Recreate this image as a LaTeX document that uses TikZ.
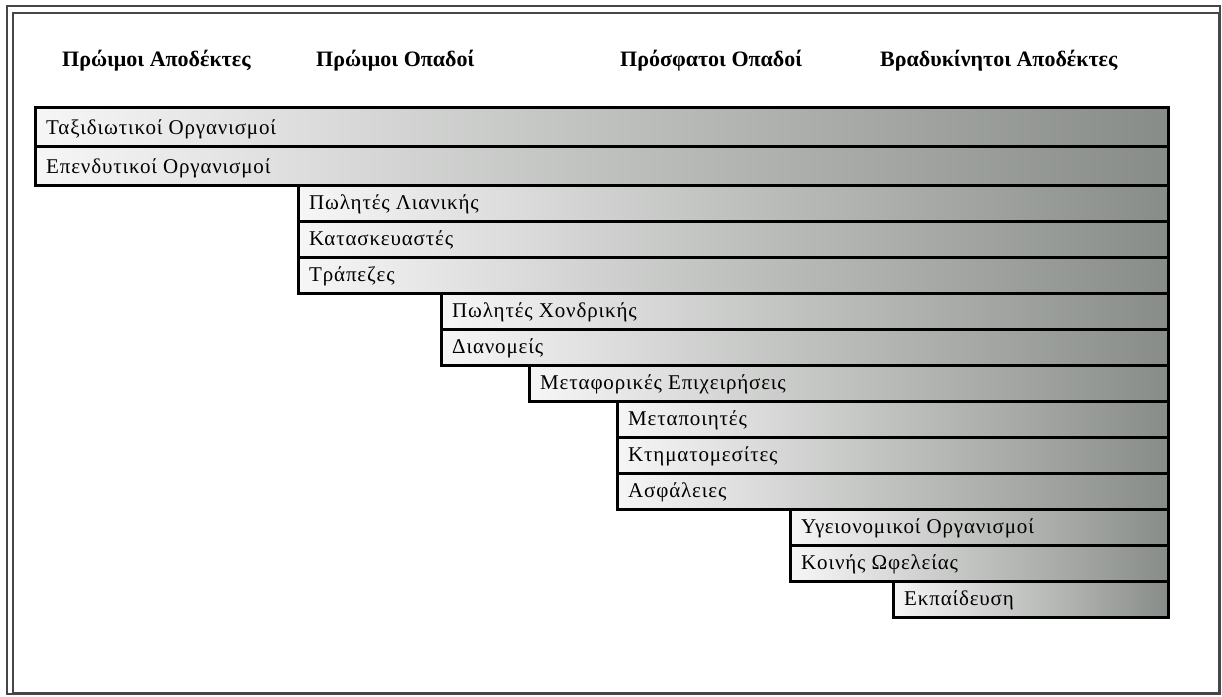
\documentclass[tikz,border=0pt]{standalone}
\usepackage{fontspec}
\setmainfont{Liberation Serif}
\newfontfamily\barfont[LetterSpace=4]{Liberation Serif}
\usepackage{tikz}
\definecolor{barlight}{RGB}{246,246,246}
\definecolor{bardark}{RGB}{136,140,136}
\definecolor{framegray}{RGB}{70,70,70}
\tikzset{%
  barbox/.style={left color=barlight, right color=bardark, draw=black, line width=3pt},
  barlabel/.style={anchor=base west, inner sep=0pt, font=\barfont\fontsize{21}{24}\selectfont},
  phase/.style={anchor=base west, inner sep=0pt, font=\fontsize{22}{26}\selectfont\bfseries}
}

\begin{document}
\begin{tikzpicture}[x=1pt, y=-1pt]
  \useasboundingbox (0,0) rectangle (1222,696);

% frame
\draw [framegray, line width=1.5pt] (7,6) rectangle (1220,694);
\draw [framegray, line width=1.5pt] (13,13) rectangle (1219,693);

% phases of adoption
\foreach \name / \x / \txt in {early/62/Πρώιμοι Αποδέκτες, earlymaj/316/Πρώιμοι Οπαδοί,
  latemaj/620/Πρόσφατοι Οπαδοί, laggards/880/Βραδυκίνητοι Αποδέκτες}{
  \node [phase] (\name) at (\x, 66) {\txt};
}

% sectors
\foreach \name / \xl / \yt / \yb / \txt in {
  travel/35/107/146/Ταξιδιωτικοί Οργανισμοί,
  invest/35/146/185/Επενδυτικοί Οργανισμοί,
  retail/298/185/221/Πωλητές Λιανικής,
  manuf/298/221/257/Κατασκευαστές,
  banks/298/257/293/Τράπεζες,
  wholesale/441/293/329/Πωλητές Χονδρικής,
  distrib/441/329/365/Διανομείς,
  transport/529/365/401/Μεταφορικές Επιχειρήσεις,
  process/617/401/437/Μεταποιητές,
  estate/617/437/473/Κτηματομεσίτες,
  insur/617/473/509/Ασφάλειες,
  health/790/509/545/Υγειονομικοί Οργανισμοί,
  utility/790/545/581/Κοινής Ωφελείας,
  educ/893/581/617/Εκπαίδευση}{
  \shade [barbox] (\xl,\yt) rectangle (1168,\yb);
  \node [barlabel] (\name) at (\xl+11, \yb-12) {\txt};
}

\end{tikzpicture}
\end{document}
